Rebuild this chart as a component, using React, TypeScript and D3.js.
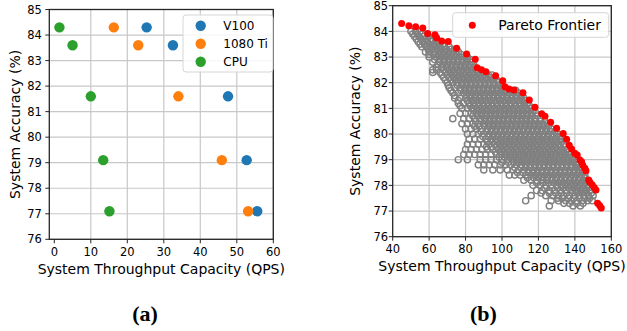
import React from "react";
import * as d3 from "d3";

// ---------- Panel (a) data ----------
const devices = ["V100", "1080 Ti", "CPU"];
const deviceColors = ["#1f77b4", "#ff7f0e", "#2ca02c"];
const accuracyLevels = [84.3, 83.6, 81.6, 79.1, 77.1];
const v100Qps = [25.3, 32.5, 47.6, 52.7, 55.6];
const gtx1080Qps = [16.3, 23.0, 34.0, 45.9, 53.1];
const cpuQps = [1.4, 5.0, 10.0, 13.4, 15.1];
const deviceQps = [v100Qps, gtx1080Qps, cpuQps];
const xTicksA = [0, 10, 20, 30, 40, 50, 60];
const yTicks = [76, 77, 78, 79, 80, 81, 82, 83, 84, 85];

// ---------- Panel (b) data ----------
const paretoQps = [44.9, 48.9, 52.6, 56.5, 59.2, 63.2, 64.1, 66.9, 70.5, 75.1, 80.6, 85.3, 86.4, 88.8, 91.2, 96.5, 100.4, 101.6, 103.8, 106.6, 111.5, 115.0, 118.1, 121.8, 123.6, 126.7, 130.0, 133.6, 135.5, 136.9, 138.2, 140.0, 141.3, 142.8, 143.7, 144.3, 145.5, 146.1, 147.6, 148.3, 149.5, 150.6, 151.6, 152.5, 153.6, 154.5];
const paretoAcc = [84.31, 84.22, 84.18, 84.13, 83.92, 83.87, 83.75, 83.62, 83.61, 83.34, 83.12, 82.91, 82.58, 82.5, 82.43, 82.27, 82.08, 81.84, 81.75, 81.72, 81.61, 81.33, 81.04, 80.79, 80.69, 80.46, 80.23, 80.02, 79.8, 79.56, 79.42, 79.25, 79.18, 78.99, 78.92, 78.79, 78.67, 78.57, 78.21, 78.12, 78.02, 77.92, 77.82, 77.3, 77.22, 77.12];

// candidate configurations (accuracy level -> list of throughputs)
const configAccLevels = [
  84.0, 83.9, 83.8, 83.7, 83.6, 83.5, 83.4, 83.3, 83.2, 83.1, 83.0, 82.9, 82.8, 82.7, 82.6, 82.5, 82.4, 82.3,
  82.2, 82.1, 82.0, 81.9, 81.8, 81.7, 81.6, 81.5, 81.4, 81.3, 81.2, 81.1, 81.0, 80.9, 80.8, 80.7, 80.6, 80.5,
  80.4, 80.3, 80.2, 80.1, 80.0, 79.9, 79.8, 79.7, 79.6, 79.5, 79.4, 79.3, 79.2, 79.1, 79.0, 78.9, 78.8, 78.7,
  78.6, 78.5, 78.4, 78.3, 78.2, 78.1, 78.0, 77.9, 77.8, 77.7, 77.6, 77.5, 77.4, 77.3, 77.2,
];
const configQpsRows = [
  [50, 52.5, 55],
  [51, 53.5, 56],
  [52, 54.5, 57, 59.5],
  [53, 55.5, 58, 60.5, 62],
  [54, 56.5, 59, 61.5, 64, 66],
  [55, 57.5, 60, 62.5, 65, 67.5],
  [56, 58.5, 61, 63.5, 66, 68.5, 71],
  [59.5, 62, 64.5, 67, 69.5, 72, 74],
  [58, 60, 63.5, 66, 68.5, 71, 73.5, 76],
  [60, 62.5, 65, 67.5, 70, 72.5, 75, 77.5],
  [60, 64, 66.5, 69, 71.5, 74, 76.5, 79, 81],
  [63, 65.5, 68, 70.5, 73, 75.5, 78, 80.5, 82.5],
  [62, 66, 68.5, 71, 73.5, 76, 78.5, 81, 83.5],
  [65, 67.5, 70, 72.5, 75, 77.5, 80, 82.5, 84.5],
  [64, 67, 69.5, 72, 74.5, 77, 79.5, 82, 84.5],
  [62, 64, 68, 70.5, 73, 75.5, 78, 80.5, 83, 85.5],
  [62, 66, 69, 71.5, 74, 76.5, 79, 81.5, 84, 86.5, 89],
  [67, 70, 72.5, 75, 77.5, 80, 82.5, 85, 87.5, 90, 92.5, 94.5],
  [68, 71, 73.5, 76, 78.5, 81, 83.5, 86, 88.5, 91, 93.5, 96],
  [69, 72, 74.5, 77, 79.5, 82, 84.5, 87, 89.5, 92, 94.5, 97],
  [70, 73, 75.5, 78, 80.5, 83, 85.5, 88, 90.5, 93, 95.5, 98],
  [70.5, 75.5, 78, 80.5, 83, 85.5, 88, 90.5, 93, 95.5, 98, 100],
  [71, 74, 77, 79.5, 82, 84.5, 87, 89.5, 92, 94.5, 97, 99.5, 101],
  [72, 77.5, 80, 82.5, 85, 87.5, 90, 92.5, 95, 97.5, 100, 102.5, 105, 107.5],
  [73, 76, 79, 81.5, 84, 86.5, 89, 91.5, 94, 96.5, 99, 101.5, 104, 106.5, 109],
  [74, 80.5, 83, 85.5, 88, 90.5, 93, 95.5, 98, 100.5, 103, 105.5, 108, 110.5],
  [74, 77, 80, 82.5, 85, 87.5, 90, 92.5, 95, 97.5, 100, 102.5, 105, 107.5, 110, 112],
  [76, 81, 83.5, 86, 88.5, 91, 93.5, 96, 98.5, 101, 103.5, 106, 108.5, 111, 113],
  [76, 79, 82, 84.5, 87, 89.5, 92, 94.5, 97, 99.5, 102, 104.5, 107, 109.5, 112, 114],
  [77, 82.5, 85, 87.5, 90, 92.5, 95, 97.5, 100, 102.5, 105, 107.5, 110, 112.5, 115],
  [78, 81, 83.5, 86, 88.5, 91, 93.5, 96, 98.5, 101, 103.5, 106, 108.5, 111, 113.5, 116],
  [84.5, 87, 89.5, 92, 94.5, 97, 99.5, 102, 104.5, 107, 109.5, 112, 114.5, 117],
  [77, 80, 83, 86, 88.5, 91, 93.5, 96, 98.5, 101, 103.5, 106, 108.5, 111, 113.5, 116, 118.5],
  [84, 86.5, 89, 91.5, 94, 96.5, 99, 101.5, 104, 106.5, 109, 111.5, 114, 116.5, 119.5],
  [73, 79, 82, 85, 88, 90.5, 93, 95.5, 98, 100.5, 103, 105.5, 108, 110.5, 113, 115.5, 118, 121],
  [85.5, 88.5, 91, 93.5, 96, 98.5, 101, 103.5, 106, 108.5, 111, 113.5, 116, 118.5, 121, 123.5],
  [78, 81, 84, 87, 90, 92.5, 95, 97.5, 100, 102.5, 105, 107.5, 110, 112.5, 115, 117.5, 120, 122.5, 125],
  [85, 87.5, 90.5, 93, 95.5, 98, 100.5, 103, 105.5, 108, 110.5, 113, 115.5, 118, 120.5, 123, 125.5],
  [80, 83, 86, 89, 92, 94.5, 97, 99.5, 102, 104.5, 107, 109.5, 112, 114.5, 117, 119.5, 122, 124.5, 127],
  [88.5, 91.5, 94, 96.5, 99, 101.5, 104, 106.5, 109, 111.5, 114, 116.5, 119, 121.5, 124, 126.5, 129],
  [81, 84, 87, 90, 93, 95.5, 98, 100.5, 103, 105.5, 108, 110.5, 113, 115.5, 118, 120.5, 123, 125.5, 128, 130.5],
  [89.5, 92.5, 95, 97.5, 100, 102.5, 105, 107.5, 110, 112.5, 115, 117.5, 120, 122.5, 125, 127.5, 130, 132],
  [82, 85, 88, 91, 94, 96.5, 99, 101.5, 104, 106.5, 109, 111.5, 114, 116.5, 119, 121.5, 124, 126.5, 129, 131.5, 133],
  [92, 94.5, 97.5, 100, 102.5, 105, 107.5, 110, 112.5, 115, 117.5, 120, 122.5, 125, 127.5, 130, 132.5],
  [81, 84, 87, 90, 93, 96, 98.5, 101, 103.5, 106, 108.5, 111, 113.5, 116, 118.5, 121, 123.5, 126, 128.5, 131, 134],
  [91.5, 94, 97, 99.5, 102, 104.5, 107, 109.5, 112, 114.5, 117, 119.5, 122, 124.5, 127, 129.5, 132, 134.5],
  [80, 83, 86, 89, 92, 95, 98, 100.5, 103, 105.5, 108, 110.5, 113, 115.5, 118, 120.5, 123, 125.5, 128, 130.5, 133, 135.5],
  [96.5, 99, 101.5, 104, 106.5, 109, 111.5, 114, 116.5, 119, 121.5, 124, 126.5, 129, 131.5, 134, 136.5],
  [79, 82, 85, 88, 91, 94, 97, 100, 102.5, 105, 107.5, 110, 112.5, 115, 117.5, 120, 122.5, 125, 127.5, 130, 132.5, 135, 137.5],
  [98.5, 101.5, 104, 106.5, 109, 111.5, 114, 116.5, 119, 121.5, 124, 126.5, 129, 131.5, 134, 136.5, 139],
  [76, 81, 88, 91, 94, 97, 100, 103, 105.5, 108, 110.5, 113, 115.5, 118, 120.5, 123, 125.5, 128, 130.5, 133, 135.5, 138, 140],
  [100, 103.5, 106.5, 109, 111.5, 114, 116.5, 119, 121.5, 124, 126.5, 129, 131.5, 134, 136.5, 139, 141],
  [87, 90, 93, 96, 99, 102, 105, 108, 110.5, 113, 115.5, 118, 120.5, 123, 125.5, 128, 130.5, 133, 135.5, 138, 140.5, 142],
  [107, 110.5, 113, 115.5, 118, 120.5, 123, 125.5, 128, 130.5, 133, 135.5, 138, 140.5, 143],
  [90, 95, 99, 103, 106, 109, 112, 114.5, 117, 119.5, 122, 124.5, 127, 129.5, 132, 134.5, 137, 139.5, 142, 144],
  [108.5, 111.5, 114.5, 117, 119.5, 122, 124.5, 127, 129.5, 132, 134.5, 137, 139.5, 142, 144.5],
  [104, 107, 110, 113, 116, 118.5, 121, 123.5, 126, 128.5, 131, 133.5, 136, 138.5, 141, 143.5, 145.5],
  [114, 117.5, 120, 122.5, 125, 127.5, 130, 132.5, 135, 137.5, 140, 142.5, 145],
  [112, 116, 119, 122, 124.5, 127, 129.5, 132, 134.5, 137, 139.5, 142, 144.5, 146.5],
  [119, 122.5, 125.5, 128.5, 131, 133.5, 136, 138.5, 141, 143.5, 146],
  [117, 121, 124, 127, 130, 132.5, 135, 137.5, 140, 142.5, 145, 147.5],
  [123.5, 127.5, 130.5, 133.5, 136.5, 139, 141.5, 144, 146.5],
  [119, 122, 126, 129, 132, 135, 138, 140.5, 143, 145.5, 148],
  [121.5, 126, 129.5, 132.5, 135.5, 138.5, 141.5, 144, 146.5, 149],
  [116, 124, 128, 131, 134, 137, 140, 142.5, 145, 147.5, 150],
  [130.5, 133, 136.5, 139.5, 142.5, 145.5, 148],
  [113, 127, 131, 135, 138, 141, 144, 147, 149.5],
  [134, 137, 141, 144.5],
  [126, 139, 143],
];
const xTicksB = [40, 60, 80, 100, 120, 140, 160];

const FONT = "DejaVu Sans";
const GRID = "#c8c8c8";
const SPINE = "#262626";

type Box = { l: number; r: number; t: number; b: number };

function Frame({ box, xs, ys, xTicks, skipXGrid }: any) {
  return (
    <g>
      {xTicks.map((t: number) =>
        skipXGrid && t === xTicks[0] ? null : (
          <line key={"gx" + t} x1={xs(t)} x2={xs(t)} y1={box.t} y2={box.b} stroke={GRID} strokeWidth={1.2} />
        )
      )}
      {yTicks.map((t) => (
        <line key={"gy" + t} x1={box.l} x2={box.r} y1={ys(t)} y2={ys(t)} stroke={GRID} strokeWidth={1.2} />
      ))}
    </g>
  );
}

function Axes({ box, xs, ys, xTicks, yTickGap, xLabelY, yLabelX }: any) {
  return (
    <g fontFamily={FONT} fill="#000">
      <rect x={box.l} y={box.t} width={box.r - box.l} height={box.b - box.t} fill="none" stroke={SPINE} strokeWidth={1.3} />
      {xTicks.map((t: number) => (
        <g key={"xt" + t}>
          <line x1={xs(t)} x2={xs(t)} y1={box.b} y2={box.b + 4} stroke={SPINE} strokeWidth={1} />
          <text x={xs(t)} y={box.b + 16.7} textAnchor="middle" fontSize={11.5}>{t}</text>
        </g>
      ))}
      {yTicks.map((t) => (
        <g key={"yt" + t}>
          <line x1={box.l - 4} x2={box.l} y1={ys(t)} y2={ys(t)} stroke={SPINE} strokeWidth={1} />
          <text x={box.l - yTickGap} y={ys(t)} dy="0.36em" textAnchor="end" fontSize={11.5}>{t}</text>
        </g>
      ))}
      <text x={(box.l + box.r) / 2} y={xLabelY} textAnchor="middle" fontSize={14}>System Throughput Capacity (QPS)</text>
      <text transform={`translate(${yLabelX},${(box.t + box.b) / 2}) rotate(-90)`} textAnchor="middle" fontSize={14}>System Accuracy (%)</text>
    </g>
  );
}

export default function App() {
  const boxA: Box = { l: 49.3, r: 273.3, t: 9.5, b: 239.3 };
  const xA = d3.scaleLinear().domain([-1.37, 60]).range([boxA.l, boxA.r]);
  const yA = d3.scaleLinear().domain([76, 85]).range([boxA.b, boxA.t]);

  const boxB: Box = { l: 392.7, r: 611.3, t: 5.7, b: 236.7 };
  const xB = d3.scaleLinear().domain([40, 160]).range([boxB.l, boxB.r]);
  const yB = d3.scaleLinear().domain([76, 85]).range([boxB.b, boxB.t]);

  const configPoints: [number, number][] = [];
  configAccLevels.forEach((acc, i) => (configQpsRows[i] || []).forEach((q) => configPoints.push([q, acc])));

  return (
    <div style={{ position: "absolute", left: 0, top: 0 }}>
      <svg width={627} height={331} style={{ display: "block", background: "#fff" }}>
        {/* Panel (a) */}
        <Frame box={boxA} xs={xA} ys={yA} xTicks={xTicksA} skipXGrid={true} />
        {deviceQps.map((qs, di) =>
          qs.map((q, i) => (
            <circle key={`a${di}-${i}`} cx={xA(q)} cy={yA(accuracyLevels[i])} r={5.2} fill={deviceColors[di]} />
          ))
        )}
        <Axes box={boxA} xs={xA} ys={yA} xTicks={xTicksA} yTickGap={7.5} xLabelY={274} yLabelX={19.5} />
        <g fontFamily={FONT}>
          <rect x={183} y={15} width={90} height={57} rx={3} fill="#fff" fillOpacity={0.85} stroke="#d6d6d6" strokeWidth={1} />
          {devices.map((d, i) => (
            <g key={d}>
              <circle cx={200.7} cy={25.7 + i * 18} r={5.2} fill={deviceColors[i]} />
              <text x={223.3} y={25.7 + i * 18} dy="0.36em" fontSize={12}>{d}</text>
            </g>
          ))}
        </g>

        {/* Panel (b) */}
        <Frame box={boxB} xs={xB} ys={yB} xTicks={xTicksB} skipXGrid={true} />
        {configPoints.map(([q, a], i) => (
          <circle key={"c" + i} cx={xB(q)} cy={yB(a)} r={3.1} fill="none" stroke="#808080" strokeWidth={1.4} />
        ))}
        {paretoQps.map((q, i) => (
          <circle key={"p" + i} cx={xB(q)} cy={yB(paretoAcc[i])} r={3.5} fill="#ff0000" />
        ))}
        <Axes box={boxB} xs={xB} ys={yB} xTicks={xTicksB} yTickGap={4.5} xLabelY={270.7} yLabelX={360} />
        <g fontFamily={FONT}>
          <rect x={452.7} y={12.7} width={156} height={24.6} rx={3} fill="#fff" fillOpacity={0.85} stroke="#d6d6d6" strokeWidth={1} />
          <circle cx={472.3} cy={25.3} r={3.5} fill="#ff0000" />
          <text x={498.3} y={25.3} dy="0.36em" fontSize={14}>Pareto Frontier</text>
        </g>

        {/* captions */}
        <text x={145} y={321} textAnchor="middle" fontFamily="Liberation Serif" fontWeight="bold" fontSize={22}>(a)</text>
        <text x={483.5} y={321} textAnchor="middle" fontFamily="Liberation Serif" fontWeight="bold" fontSize={22}>(b)</text>
      </svg>
    </div>
  );
}
